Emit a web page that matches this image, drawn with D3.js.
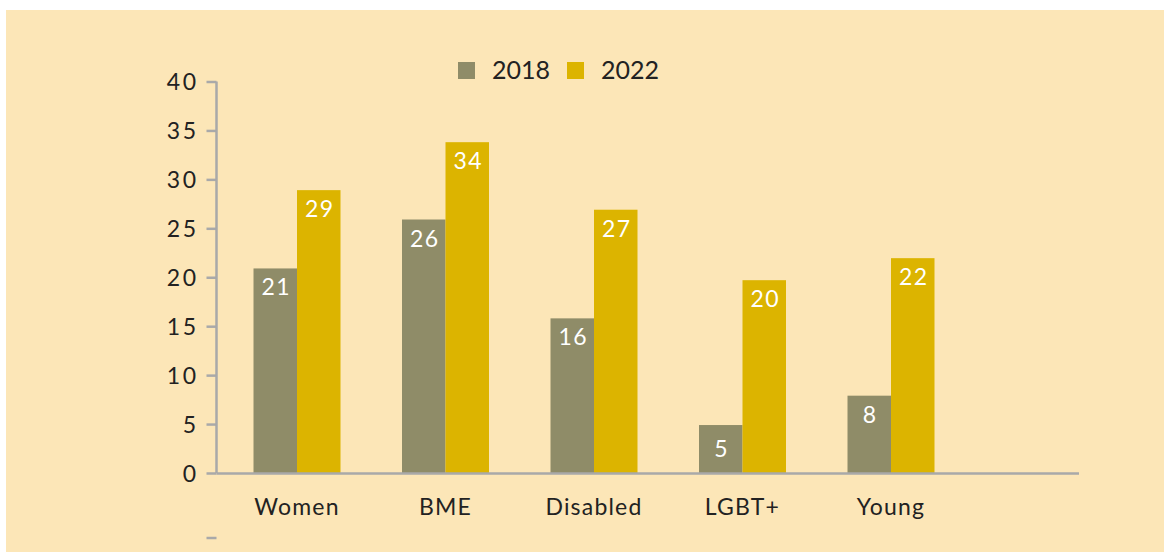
<!DOCTYPE html>
<html>
<head>
<meta charset="utf-8">
<script src="https://cdn.jsdelivr.net/npm/d3@7"></script>
<style>
  html, body { margin: 0; padding: 0; background: #ffffff; }
  svg { display: block; }
  text { font-family: Lato, "Open Sans", sans-serif; }
</style>
</head>
<body>
<svg id="chart" width="1164" height="552"></svg>
<script>
const categories = ["Women", "BME", "Disabled", "LGBT+", "Young"];
const seriesNames = ["2018", "2022"];
const values2018 = [20.9, 25.9, 15.8, 4.9, 7.9];
const values2022 = [28.9, 33.8, 26.9, 19.7, 21.95];
const labels2018 = ["21", "26", "16", "5", "8"];
const labels2022 = ["29", "34", "27", "20", "22"];
const yTicks = [0, 5, 10, 15, 20, 25, 30, 35, 40];
const colors = ["#8f8c68", "#dcb400"];

const svg = d3.select("#chart");
const W = 1164, H = 552;

svg.append("rect").attr("x", 6).attr("y", 10).attr("width", W - 6).attr("height", H - 10)
  .attr("fill", "#fce6b7");

const axisX = 216.5, y0 = 473, yTop = 81.5;
const y = d3.scaleLinear().domain([0, 40]).range([y0, yTop]);
const step = 148.5;
const x = d3.scaleBand().domain(categories).range([297 - step / 2, 297 - step / 2 + step * categories.length]).padding(0);
const xs = d3.scaleBand().domain(seriesNames).range([step / 2 - 43.5, step / 2 + 43.5]).padding(0);

const data = categories.map((c, i) => ({
  cat: c,
  vals: [
    { s: "2018", v: values2018[i], label: labels2018[i] },
    { s: "2022", v: values2022[i], label: labels2022[i] }
  ]
}));

const g = svg.append("g");
const groups = g.selectAll("g.cat").data(data).join("g")
  .attr("transform", d => `translate(${x(d.cat)},0)`);

groups.selectAll("rect").data(d => d.vals).join("rect")
  .attr("x", d => xs(d.s))
  .attr("width", xs.bandwidth())
  .attr("y", d => y(d.v))
  .attr("height", d => y0 - y(d.v))
  .attr("fill", (d, i) => colors[i]);

groups.selectAll("text.val").data(d => d.vals).join("text")
  .attr("class", "val")
  .attr("x", d => xs(d.s) + xs.bandwidth() / 2 + 1)
  .attr("y", d => {
    const h = y0 - y(d.v);
    return h < 60 ? y(d.v) + h / 2 + 8 : y(d.v) + 27;
  })
  .attr("text-anchor", "middle")
  .attr("fill", "#ffffff")
  .attr("font-size", 23)
  .attr("letter-spacing", 1.5)
  .text(d => d.label);

// Y axis
const axisColor = "#a9a9a9";
const yAxis = d3.axisLeft(y).tickValues(yTicks).tickSize(10).tickPadding(8);
const ya = svg.append("g").attr("transform", `translate(${axisX},0)`).call(yAxis);
ya.select(".domain").remove();
ya.selectAll(".tick line").attr("stroke", axisColor).attr("stroke-width", 2.5);
ya.selectAll(".tick text").attr("fill", "#222").attr("font-size", 23)
  .attr("letter-spacing", 2.5)
  .attr("font-family", "Lato, 'Open Sans', sans-serif").attr("dy", "0.35em");
svg.append("line").attr("x1", axisX).attr("x2", axisX).attr("y1", yTop).attr("y2", y0)
  .attr("stroke", axisColor).attr("stroke-width", 2.5);

// stray tick below
svg.append("line").attr("x1", axisX - 10).attr("x2", axisX).attr("y1", 538).attr("y2", 538)
  .attr("stroke", axisColor).attr("stroke-width", 2.5);

// X axis line
svg.append("line").attr("x1", axisX).attr("x2", 1079).attr("y1", y0 + 0.5).attr("y2", y0 + 0.5)
  .attr("stroke", axisColor).attr("stroke-width", 2.5);

// category labels
svg.selectAll("text.cat").data(categories).join("text")
  .attr("class", "cat")
  .attr("x", d => x(d) + step / 2)
  .attr("y", 515)
  .attr("text-anchor", "middle")
  .attr("fill", "#222")
  .attr("font-size", 23)
  .attr("letter-spacing", 1.2)
  .text(d => d);

// legend
const legend = svg.append("g");
const legendX = [458, 567];
seriesNames.forEach((s, i) => {
  legend.append("rect").attr("x", legendX[i]).attr("y", 62).attr("width", 17).attr("height", 17)
    .attr("fill", colors[i]);
  legend.append("text").attr("x", legendX[i] + 34).attr("y", 79)
    .attr("fill", "#222").attr("font-size", 25).text(s);
});
</script>
</body>
</html>
